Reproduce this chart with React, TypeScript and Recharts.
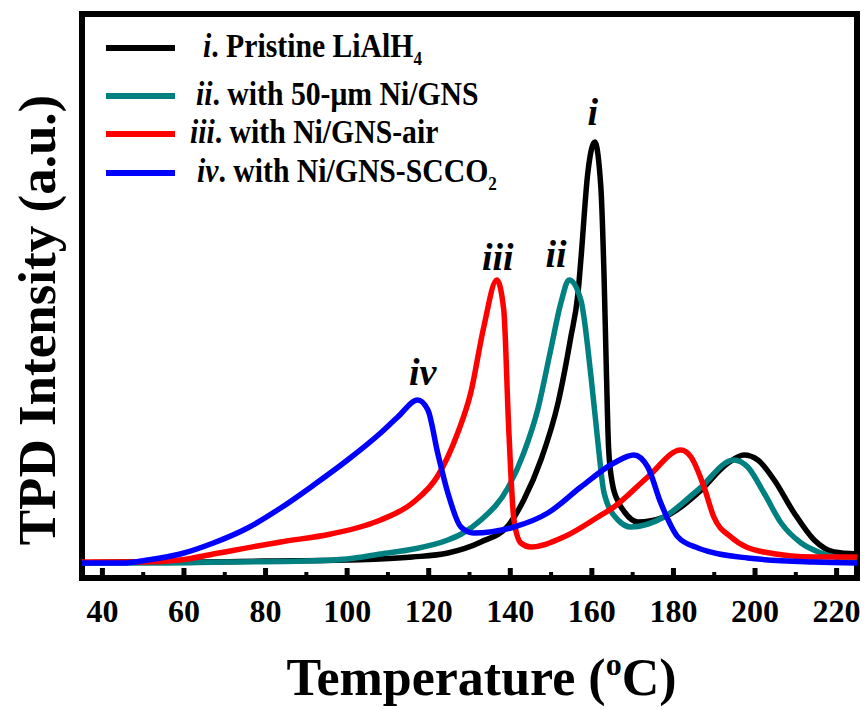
import { LineChart, Line, XAxis, YAxis, ReferenceArea, ReferenceDot, Legend } from 'recharts';

// temperature (oC) -> TPD intensity (arb. units)
const T_I = [35, 45, 60, 80, 100, 108, 116, 124.7, 132.8, 139.4, 143.3, 147.5, 151.7, 154.8, 156.6, 157.3, 159, 160.7, 162.2, 163, 163.6, 164.1, 165, 166.5, 168, 171.3, 177.7, 186, 193.4, 197.3, 200.7, 204.7, 209.6, 214.5, 219.4, 225];
const Y_I = [15, 16, 16, 17, 18, 19, 21, 25, 36, 52, 78, 118, 175, 240, 285, 318, 405, 436, 391, 300, 200, 130, 95, 76, 66, 56, 61, 85, 115, 123, 118, 98, 65, 38, 26, 24];

const T_II = [35, 50, 70, 90, 100, 108.2, 116.3, 124.7, 128, 132.8, 139.4, 143.3, 146.7, 149.9, 152.4, 154.4, 157.3, 159.8, 161.5, 163, 166.4, 169.6, 177.7, 186, 194.8, 198.2, 202.2, 206.4, 211.3, 216.2, 225];
const Y_II = [15, 15, 16, 17, 19, 24, 29, 38, 44, 58, 90, 125, 168, 228, 275, 298, 278, 201, 135, 85, 58, 51, 61, 88, 118, 111, 85, 55, 35, 25, 18];

const T_III = [35, 50, 59, 67.2, 83.7, 96, 104, 108.2, 116.3, 122.2, 127.1, 130.3, 133.5, 136.7, 138.4, 139.6, 140.9, 142.6, 145, 153.1, 161.5, 165.4, 173.7, 181.8, 184.3, 187.5, 189.9, 194.1, 202.2, 214.5, 225];
const Y_III = [16, 16, 18, 24, 36, 44, 52, 58, 76, 102, 145, 185, 251, 298, 268, 151, 58, 35, 31, 41, 61, 71, 101, 128, 121, 91, 61, 41, 26, 21, 21];

const T_IV = [35, 45, 51, 59.1, 67.2, 75.6, 83.7, 91.8, 100.1, 108.2, 112.4, 117.3, 119.8, 122.2, 124.7, 127.9, 131, 140.9, 149.2, 157.3, 165.4, 170.3, 173.7, 176.9, 181.1, 186, 198.2, 214.5, 225];
const Y_IV = [15, 15, 18, 24, 35, 50, 70, 93, 118, 145, 161, 178, 168, 125, 85, 51, 45, 51, 65, 91, 115, 123, 111, 75, 41, 30, 20, 16, 15];

const X_TICKS = [40, 50, 60, 70, 80, 90, 100, 110, 120, 130, 140, 150, 160, 170, 180, 190, 200, 210, 220];
const X_LABELS = [40, 60, 80, 100, 120, 140, 160, 180, 200, 220];

const SERIES = [
  { key: 'i', color: '#000000', label: 'Pristine LiAlH', sub: '4', t: T_I, y: Y_I },
  { key: 'ii', color: '#008080', label: 'with 50-\u03bcm Ni/GNS', sub: '', t: T_II, y: Y_II },
  { key: 'iii', color: '#ff0000', label: 'with Ni/GNS-air', sub: '', t: T_III, y: Y_III },
  { key: 'iv', color: '#0000ff', label: 'with Ni/GNS-SCCO', sub: '2', t: T_IV, y: Y_IV },
];

const FONT = '"Liberation Serif", "Times New Roman", serif';

// legend row layout (line centre y, text left x)
const LEGEND_POS = [
  { y: 48, textX: 203 },
  { y: 96, textX: 196 },
  { y: 134, textX: 190 },
  { y: 173, textX: 197 },
];

// peak label offsets from the peak point
const PEAK_OFFSET = [
  { dx: -2, dy: -17 },
  { dx: -13, dy: -13 },
  { dx: 1, dy: -10 },
  { dx: 5, dy: -15 },
];

const toRows = (t: number[], y: number[]) => t.map((v, i) => ({ t: v, v: y[i] }));

const peakOf = (t: number[], y: number[]) => {
  let k = 0;
  y.forEach((v, i) => { if (v > y[k]) k = i; });
  return { x: t[k], y: y[k] };
};

function XTick(props: any) {
  const { x, y, payload } = props;
  const major = X_LABELS.includes(payload.value);
  return (
    <g>
      <line x1={x} x2={x} y1={y} y2={y - (major ? 10 : 6)} stroke="#000" strokeWidth={major ? 5 : 4} />
      {major && (
        <text x={x} y={y + 44} textAnchor="middle" fontFamily={FONT} fontWeight="bold" fontSize={32} fill="#000">
          {payload.value}
        </text>
      )}
    </g>
  );
}

function LegendBox() {
  return (
    <div style={{ position: 'relative', width: 866, height: 200, fontFamily: FONT }}>
      {SERIES.map((s, i) => (
        <div key={s.key}>
          <div style={{ position: 'absolute', left: 106, top: LEGEND_POS[i].y - 3, width: 69, height: 6, background: s.color }} />
          <div
            style={{
              position: 'absolute',
              left: LEGEND_POS[i].textX,
              top: LEGEND_POS[i].y - 18,
              fontSize: 33,
              lineHeight: '33px',
              fontWeight: 'bold',
              whiteSpace: 'nowrap',
              color: '#000',
              transform: 'scaleX(0.9)',
              transformOrigin: 'left center',
            }}
          >
            <i>{s.key}</i>. {s.label}
            {s.sub && <sub style={{ fontSize: 19 }}>{s.sub}</sub>}
          </div>
        </div>
      ))}
    </div>
  );
}

export default function App() {
  return (
    <div style={{ position: 'absolute', left: 0, top: 0, width: 866, height: 709, background: '#fff' }}>
      <LineChart width={866} height={709} margin={{ top: 14, right: 9, bottom: 0, left: 2 }}>
        <XAxis
          type="number"
          dataKey="t"
          domain={[35, 225]}
          ticks={X_TICKS}
          interval={0}
          allowDataOverflow
          height={131}
          axisLine={false}
          tickLine={false}
          tickSize={0}
          tickMargin={0}
          tick={<XTick />}
          label={(p: any) => {
            const vb = p.viewBox;
            const cx = vb.x + vb.width / 2 + 12;
            return (
              <text x={cx} y={695} textAnchor="middle" fontFamily={FONT} fontWeight="bold" fontSize={52} fill="#000">
                Temperature (<tspan fontSize={32} dy={-20}>o</tspan><tspan dy={20}>C)</tspan>
              </text>
            );
          }}
        />
        <YAxis
          type="number"
          domain={[0, 564]}
          allowDataOverflow
          width={80}
          tick={false}
          axisLine={false}
          tickLine={false}
          label={(p: any) => {
            const vb = p.viewBox;
            const cy = vb.y + vb.height / 2 + 24;
            return (
              <text x={55} y={cy} transform={`rotate(-90 55 ${cy})`} textAnchor="middle" fontFamily={FONT} fontWeight="bold" fontSize={53} fill="#000">
                TPD Intensity (a.u.)
              </text>
            );
          }}
        />
        {SERIES.map((s) => (
          <Line
            key={s.key}
            data={toRows(s.t, s.y)}
            dataKey="v"
            type="monotone"
            stroke={s.color}
            strokeWidth={5.5}
            dot={false}
            activeDot={false}
            isAnimationActive={false}
          />
        ))}
        {SERIES.map((s, i) => {
          const pk = peakOf(s.t, s.y);
          const off = PEAK_OFFSET[i];
          return (
            <ReferenceDot
              key={'pk' + s.key}
              x={pk.x}
              y={pk.y}
              r={0}
              fill="none"
              stroke="none"
              label={(p: any) => (
                <text x={p.viewBox.x + off.dx} y={p.viewBox.y + off.dy} textAnchor="middle" fontFamily={FONT} fontWeight="bold" fontStyle="italic" fontSize={38} fill="#000">
                  {s.key}
                </text>
              )}
            />
          );
        })}
        <ReferenceArea x1={35} x2={225} y1={0} y2={564} fill="none" stroke="#000" strokeWidth={6} ifOverflow="visible" />
        <Legend
          layout="vertical"
          align="center"
          verticalAlign="middle"
          content={<LegendBox />}
          wrapperStyle={{ position: 'absolute', left: 0, top: 0, width: 866, height: 200 }}
        />
      </LineChart>
    </div>
  );
}
